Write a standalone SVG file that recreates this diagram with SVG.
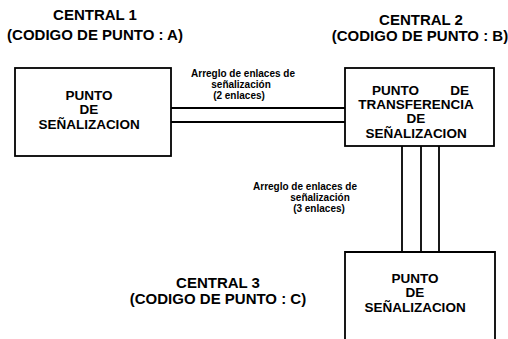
<svg xmlns="http://www.w3.org/2000/svg" width="508" height="339" viewBox="0 0 508 339">
<style>
text{font-family:"Liberation Sans",Arial,sans-serif;font-weight:bold;fill:#000}
.h{font-size:15px;text-anchor:middle}
.b{font-size:13.5px;text-anchor:middle}
.l{font-size:10px;text-anchor:middle}
.box{fill:none;stroke:#000;stroke-width:1.8}
.c{fill:none;stroke:#000;stroke-width:1.8}
</style>
<rect width="508" height="339" fill="#fff"/>
<g id="central1">
<text class="h" x="95" y="20">CENTRAL 1</text>
<text class="h" x="95" y="40">(CODIGO DE PUNTO : A)</text>
</g>
<g id="central2">
<text class="h" x="421" y="25">CENTRAL 2</text>
<text class="h" x="420" y="41">(CODIGO DE PUNTO : B)</text>
</g>
<g id="central3">
<text class="h" x="218" y="288">CENTRAL 3</text>
<text class="h" x="218" y="304">(CODIGO DE PUNTO : C)</text>
</g>
<g id="sp1">
<rect class="box" x="15" y="68" width="156" height="88"/>
<text class="b" x="89" y="100">PUNTO</text>
<text class="b" x="89" y="114">DE</text>
<text class="b" x="89" y="129">SEÑALIZACION</text>
</g>
<g id="stp">
<rect class="box" x="345" y="68" width="149" height="78"/>
<text class="b" style="text-anchor:start" x="372" y="95">PUNTO</text>
<text class="b" style="text-anchor:end" x="469" y="95">DE</text>
<text class="b" x="416" y="109">TRANSFERENCIA</text>
<text class="b" x="416" y="123">DE</text>
<text class="b" x="416" y="138">SEÑALIZACION</text>
</g>
<g id="sp3">
<path class="box" d="M345,339 V252 H495 V339"/>
<text class="b" x="415" y="283">PUNTO</text>
<text class="b" x="415" y="297">DE</text>
<text class="b" x="415" y="312">SEÑALIZACION</text>
</g>
<g id="connectors">
<line class="c" x1="171" y1="108" x2="345" y2="108"/>
<line class="c" x1="171" y1="122" x2="345" y2="122"/>
<line class="c" x1="402" y1="146" x2="402" y2="252"/>
<line class="c" x1="421" y1="146" x2="421" y2="252"/>
<line class="c" x1="439" y1="146" x2="439" y2="252"/>
</g>
<g id="labels">
<text class="l" x="243" y="77">Arreglo de enlaces de</text>
<text class="l" x="241" y="88">señalización</text>
<text class="l" x="239" y="99">(2 enlaces)</text>
<text class="l" x="305" y="190">Arreglo de enlaces de</text>
<text class="l" x="320" y="201">señalización</text>
<text class="l" x="319" y="212">(3 enlaces)</text>
</g>
</svg>
